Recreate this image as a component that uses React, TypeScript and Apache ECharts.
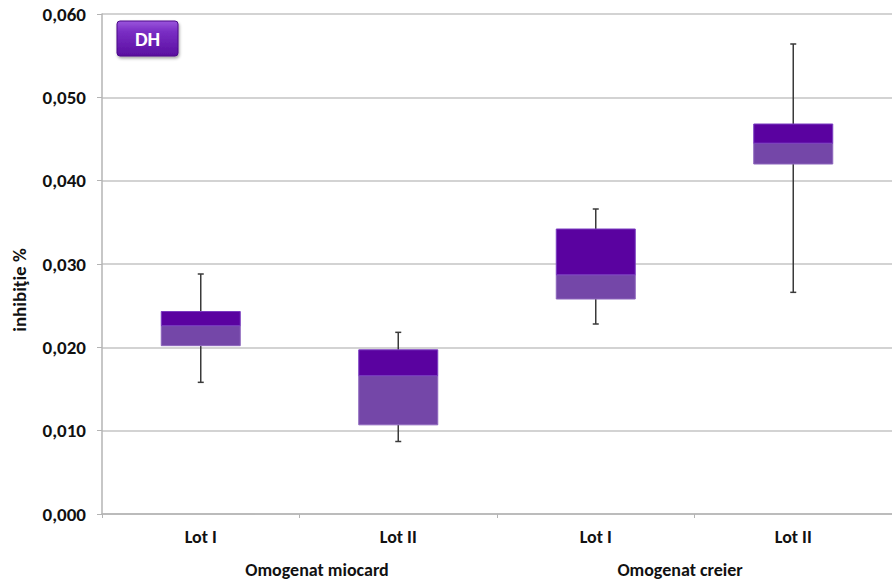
import React, { useEffect, useRef } from "react";
import * as echarts from "echarts";

const categories = ["Lot I", "Lot II", "Lot I", "Lot II"];
const groupLabels = ["Omogenat miocard", "Omogenat creier"];
const yTitle = "inhibiţie %";
const whiskerMin = [0.0158, 0.0087, 0.0228, 0.0266];
const q1 = [0.0202, 0.0107, 0.0258, 0.042];
const median = [0.0226, 0.0166, 0.0287, 0.0445];
const q3 = [0.0243, 0.0197, 0.0342, 0.0468];
const whiskerMax = [0.0288, 0.0218, 0.0366, 0.0564];
const yTicks = [0, 0.01, 0.02, 0.03, 0.04, 0.05, 0.06];

const FONT = "Calibri, 'Liberation Sans Narrow', Lato, sans-serif";

export default function App() {
  const ref = useRef<HTMLDivElement>(null);
  useEffect(() => {
    const chart = echarts.init(ref.current!, undefined, { renderer: "svg" });
    const data = categories.map((_, i) => [i, whiskerMin[i], q1[i], median[i], q3[i], whiskerMax[i]]);
    chart.setOption({
      animation: false,
      backgroundColor: "#ffffff",
      grid: { left: 102, top: 14, width: 793, bottom: 67, containLabel: false },
      xAxis: {
        type: "category",
        data: categories,
        axisLine: { lineStyle: { color: "#b4b4b4", width: 1.5 } },
        axisTick: { show: true, length: 4, lineStyle: { color: "#b4b4b4" } },
        axisLabel: { color: "#111", fontWeight: "bold", fontSize: 18, fontFamily: FONT, margin: 14 },
      },
      yAxis: {
        type: "value",
        min: yTicks[0],
        max: yTicks[yTicks.length - 1],
        interval: 0.01,
        axisLine: { show: true, lineStyle: { color: "#b4b4b4", width: 1.5 } },
        axisTick: { show: true, length: 5, lineStyle: { color: "#b4b4b4" } },
        splitLine: { lineStyle: { color: "#c4c4c4", width: 1.5 } },
        axisLabel: {
          color: "#111",
          fontWeight: "bold",
          fontSize: 19,
          fontFamily: FONT,
          margin: 16,
          formatter: (v: number) => v.toFixed(3).replace(".", ","),
        },
      },
      series: [
        {
          type: "custom",
          data,
          renderItem: (params: any, api: any) => {
            const i = api.value(0);
            const w = api.size([1, 0])[0] * 0.4;
            const pMin = api.coord([i, api.value(1)]);
            const pQ1 = api.coord([i, api.value(2)]);
            const pMed = api.coord([i, api.value(3)]);
            const pQ3 = api.coord([i, api.value(4)]);
            const pMax = api.coord([i, api.value(5)]);
            const x = pMin[0];
            const cap = 3;
            const lineStyle = { stroke: "#3a3a3a", lineWidth: 1.5 };
            return {
              type: "group",
              children: [
                { type: "line", shape: { x1: x, y1: pQ3[1], x2: x, y2: pMax[1] }, style: lineStyle },
                { type: "line", shape: { x1: x - cap, y1: pMax[1], x2: x + cap, y2: pMax[1] }, style: lineStyle },
                { type: "line", shape: { x1: x, y1: pQ1[1], x2: x, y2: pMin[1] }, style: lineStyle },
                { type: "line", shape: { x1: x - cap, y1: pMin[1], x2: x + cap, y2: pMin[1] }, style: lineStyle },
                {
                  type: "rect",
                  shape: { x: x - w / 2, y: pMed[1], width: w, height: pQ1[1] - pMed[1] },
                  style: { fill: "#7447a8", stroke: "#8c66bc", lineWidth: 1 },
                },
                {
                  type: "rect",
                  shape: { x: x - w / 2, y: pQ3[1], width: w, height: pMed[1] - pQ3[1] },
                  style: { fill: "#5a02a0", stroke: "#7a3cc0", lineWidth: 1 },
                },
              ],
            };
          },
        },
      ],
      graphic: [
        {
          type: "rect",
          shape: { x: 117, y: 21, width: 61, height: 35, r: 3 },
          style: {
            fill: new echarts.graphic.LinearGradient(0, 0, 0, 1, [
              { offset: 0, color: "#9a55dc" },
              { offset: 0.3, color: "#7a2ec4" },
              { offset: 1, color: "#5a0ea0" },
            ]),
            stroke: "#4a0a88",
            lineWidth: 1,
            shadowBlur: 3,
            shadowOffsetX: 1,
            shadowOffsetY: 2,
            shadowColor: "rgba(0,0,0,0.35)",
          },
        },
        {
          type: "text",
          x: 147.5,
          y: 39,
          style: {
            text: "DH",
            fill: "#ffffff",
            font: `bold 20px ${FONT}`,
            align: "center",
            verticalAlign: "middle",
          },
        },
        {
          type: "text",
          x: 19,
          y: 290,
          rotation: Math.PI / 2,
          style: {
            text: yTitle,
            fill: "#111",
            font: `bold 19px ${FONT}`,
            align: "center",
            verticalAlign: "middle",
          },
        },
        {
          type: "text",
          x: 317,
          y: 570,
          style: {
            text: groupLabels[0],
            fill: "#111",
            font: `bold 18px ${FONT}`,
            align: "center",
            verticalAlign: "middle",
          },
        },
        {
          type: "text",
          x: 680,
          y: 570,
          style: {
            text: groupLabels[1],
            fill: "#111",
            font: `bold 18px ${FONT}`,
            align: "center",
            verticalAlign: "middle",
          },
        },
      ],
    });
    return () => chart.dispose();
  }, []);
  return (
    <div
      ref={ref}
      style={{ position: "absolute", left: 0, top: 0, width: 892, height: 581 }}
    />
  );
}
